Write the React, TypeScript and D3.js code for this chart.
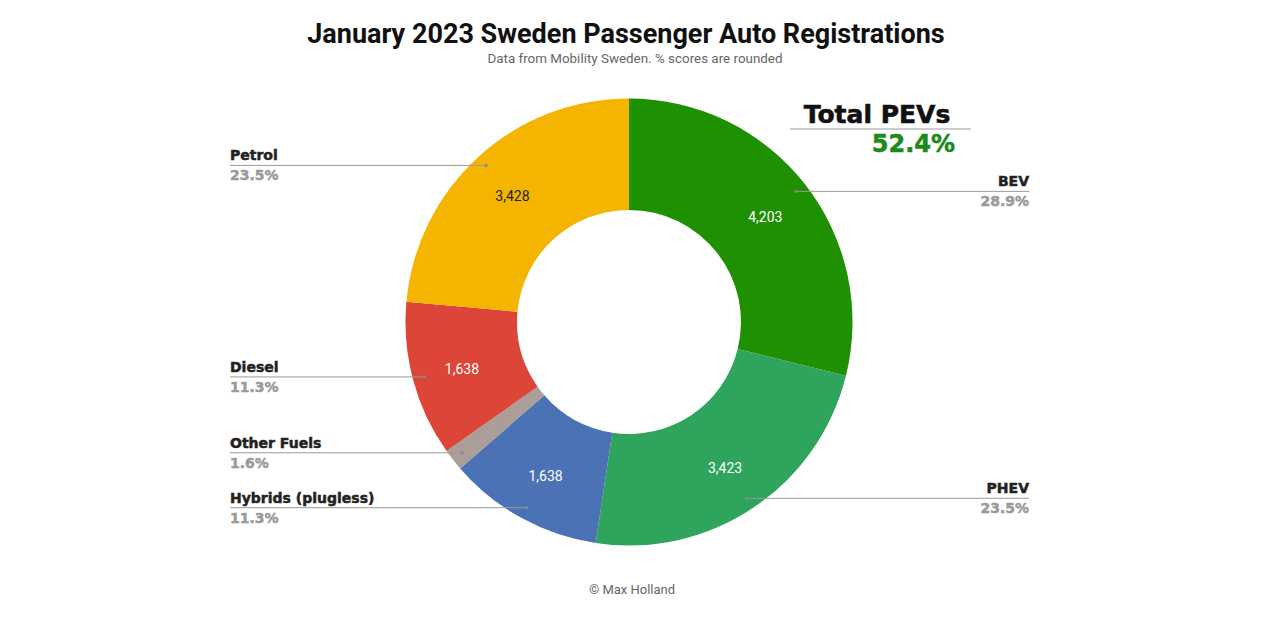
import React from "react";
import * as d3 from "d3";

const categories = ["BEV", "PHEV", "Hybrids (plugless)", "Other Fuels", "Diesel", "Petrol"];
const values = [4203, 3423, 1638, 228, 1638, 3428];
const colors = ["#1f9001", "#2ea45d", "#4a72b5", "#ab9e98", "#dc4537", "#f4b400"];
const valueLabelColors = ["#ffffff", "#ffffff", "#ffffff", "#ffffff", "#ffffff", "#222222"];
const showValue = [true, true, true, false, true, true];
const percentLabels = ["28.9%", "23.5%", "11.3%", "1.6%", "11.3%", "23.5%"];
const totalPEVLabel = "52.4%";

const W = 1280;
const H = 625;
const cx = 629;
const cy = 322;
const outerR = 223.5;
const innerR = 112;
const leftX = 230;
const rightX = 1029;
const heavy = "'DejaVu Sans', sans-serif";

export default function App() {
  const pie = d3.pie<number>().sort(null).value((d) => d)(values);
  const arc = d3.arc<d3.PieArcDatum<number>>().innerRadius(innerR).outerRadius(outerR);
  const dotR = 212;
  const labelR = 173;

  return (
    <svg width={W} height={H} style={{ position: "absolute", left: 0, top: 0, background: "#fff" }}>
      <rect width={W} height={H} fill="#fff" />
      <text x={626} y={43} textAnchor="middle" fontFamily="Roboto, sans-serif" fontWeight={700} fontSize={27} fill="#111">
        January 2023 Sweden Passenger Auto Registrations
      </text>
      <text x={635} y={63} textAnchor="middle" fontFamily="Roboto, sans-serif" fontSize={13.4} fill="#666">
        Data from Mobility Sweden. % scores are rounded
      </text>
      <g transform={`translate(${cx},${cy})`}>
        {pie.map((p, i) => (
          <path key={i} d={arc(p) || ""} fill={colors[i]} />
        ))}
        {pie.map((p, i) => {
          if (!showValue[i]) return null;
          const a = (p.startAngle + p.endAngle) / 2;
          return (
            <text
              key={"v" + i}
              x={Math.sin(a) * labelR}
              y={-Math.cos(a) * labelR + 2}
              textAnchor="middle"
              dominantBaseline="central"
              fontFamily="Roboto, sans-serif"
              fontSize={14}
              fill={valueLabelColors[i]}
            >
              {d3.format(",")(values[i])}
            </text>
          );
        })}
      </g>
      {pie.map((p, i) => {
        const a = (p.startAngle + p.endAngle) / 2;
        const px = cx + Math.sin(a) * dotR;
        const py = cy - Math.cos(a) * dotR;
        const right = Math.sin(a) > 0;
        const x0 = right ? px : leftX;
        const x1 = right ? rightX : px;
        const tx = right ? rightX : leftX;
        const anchor = right ? "end" : "start";
        return (
          <g key={"l" + i}>
            <line x1={x0} x2={x1} y1={py} y2={py} stroke="#9a9a9a" strokeWidth={1} />
            <circle cx={px} cy={py} r={1.6} fill="#8a8a8a" />
            <text x={tx} y={py - 5} textAnchor={anchor} fontFamily={heavy} fontWeight={700} fontSize={14} fill="#222" stroke="#222" strokeWidth={0.5}>
              {categories[i]}
            </text>
            <text x={tx} y={py + 15} textAnchor={anchor} fontFamily={heavy} fontWeight={700} fontSize={14} fill="#9a9a9a" stroke="#9a9a9a" strokeWidth={0.5}>
              {percentLabels[i]}
            </text>
          </g>
        );
      })}
      <text x={877} y={123} textAnchor="middle" fontFamily={heavy} fontWeight={700} fontSize={25} fill="#111" stroke="#111" strokeWidth={0.6}>
        Total PEVs
      </text>
      <line x1={790} x2={971} y1={129} y2={129} stroke="#9a9a9a" strokeWidth={1} />
      <text x={955} y={152} textAnchor="end" fontFamily={heavy} fontWeight={700} fontSize={24} fill="#1a8a1a" stroke="#1a8a1a" strokeWidth={0.5}>
        {totalPEVLabel}
      </text>
      <text x={632} y={594} textAnchor="middle" fontFamily="Roboto, sans-serif" fontSize={13} fill="#666">
        © Max Holland
      </text>
    </svg>
  );
}
